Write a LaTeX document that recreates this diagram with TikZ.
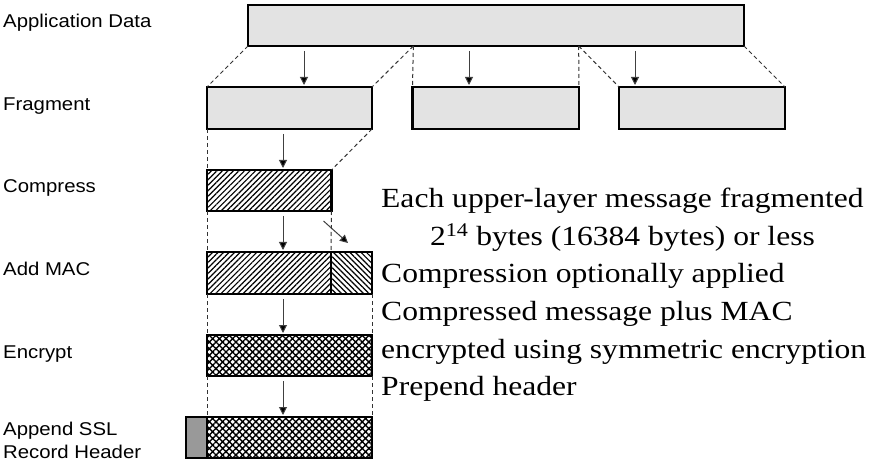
\documentclass[tikz,border=0pt]{standalone}
\usepackage{fontspec}
\setmainfont{Liberation Serif}[FakeStretch=1.14]
\newfontfamily\labfont{Liberation Sans}[FakeStretch=1.1]
\usetikzlibrary{calc,patterns.meta,arrows.meta}
\begin{document}
\begin{tikzpicture}[x=1pt,y=-1pt,
  box/.style={draw=black, line width=2.4pt, inner sep=0pt, outer sep=0pt, anchor=north west},
  plain/.style={box, fill=black!11},
  hatchA/.style={box, pattern={Lines[angle=45,distance=3.9pt,line width=1.2pt]}},
  hatchB/.style={box, pattern={Lines[angle=-45,distance=3.9pt,line width=1.2pt]}},
  cross/.style={box, pattern={Hatch[angle=45,distance=4.7pt,line width=1.4pt]}},
  guide/.style={line width=1pt, draw=black!80, dash pattern=on 4pt off 3pt},
  arr/.style={line width=1pt, draw=black!75, -{Triangle[width=8pt,length=8pt,fill=black]}},
  lab/.style={anchor=base west, inner sep=0pt, font=\labfont\fontsize{18.5}{22}\selectfont},
  note/.style={anchor=base west, inner sep=0pt, font=\fontsize{27.7}{33}\selectfont}]
\useasboundingbox (0,0) rectangle (873,465);

% boxes
\node[plain, minimum width=496pt, minimum height=41pt] (app) at (248,5) {};
\node[plain, minimum width=165pt, minimum height=42pt] (f1) at (207,87) {};
\node[plain, minimum width=166.5pt, minimum height=42pt] (f2) at (412.5,87) {};
\node[plain, minimum width=166pt, minimum height=42pt] (f3) at (619,87) {};
\node[hatchA, minimum width=124.5pt, minimum height=41pt] (comp) at (207,170) {};
\node[hatchA, minimum width=124pt, minimum height=42pt] (mac1) at (207,252) {};
\node[hatchB, minimum width=41pt, minimum height=42pt] (mac2) at (331,252) {};
\node[cross, minimum width=165pt, minimum height=41pt] (enc) at (207,335) {};
\node[box, fill=black!40, minimum width=21pt, minimum height=41pt] (hdr1) at (186,417) {};
\node[cross, minimum width=165pt, minimum height=41pt] (hdr2) at (207,417) {};

% split points of application data
\coordinate (s1) at ($(app.south west)!1/3!(app.south east)$);
\coordinate (s2) at ($(app.south west)!2/3!(app.south east)$);

% dashed guides
\draw[guide] (app.south west) -- (f1.north west);
\draw[guide] (s1) -- (f1.north east);
\draw[guide] (s1) -- (f2.north west);
\draw[guide] (s2) -- (f2.north east);
\draw[guide] (s2) -- (f3.north west);
\draw[guide] (app.south east) -- (f3.north east);
\draw[guide] (f1.south west) -- (comp.north west);
\draw[guide] (f1.south east) -- (comp.north east);
\draw[guide] (comp.south west) -- (mac1.north west);
\draw[guide] (comp.south east) -- (mac1.north east);
\draw[guide] (mac1.south west) -- (enc.north west);
\draw[guide] (mac2.south east) -- (enc.north east);
\draw[guide] (enc.south west) -- (hdr2.north west);
\draw[guide] (enc.south east) -- (hdr2.north east);

% arrow columns
\coordinate (c1) at (304,0);
\coordinate (c2) at (469,0);
\coordinate (c3) at (635,0);
\coordinate (c4) at (283,0);

\draw[arr] ($(app.south -| c1)+(0,5)$) -- ($(f1.north -| c1)+(0,-2)$);
\draw[arr] ($(app.south -| c2)+(0,5)$) -- ($(f2.north -| c2)+(0,-2)$);
\draw[arr] ($(app.south -| c3)+(0,5)$) -- ($(f3.north -| c3)+(0,-2)$);
\draw[arr] ($(f1.south -| c4)+(0,5)$) -- ($(comp.north -| c4)+(0,-2)$);
\draw[arr] ($(comp.south -| c4)+(0,5)$) -- ($(mac1.north -| c4)+(0,-2)$);
\draw[arr] ($(comp.south east)+(-8,10)$) -- ($(mac2.north)+(-3.5,-9)$);
\draw[arr] ($(mac1.south -| c4)+(0,5)$) -- ($(enc.north -| c4)+(0,-2)$);
\draw[arr] ($(enc.south -| c4)+(0,5)$) -- ($(hdr2.north -| c4)+(0,-2)$);

% left labels
\node[lab] (l1) at (3,28) {Application Data};
\node[lab] (l2) at (3,111) {Fragment};
\node[lab] (l3) at (3,193) {Compress};
\node[lab] (l4) at (3,276) {Add MAC};
\node[lab] (l5) at (3,358) {Encrypt};
\node[lab] (l6) at (3,435) {Append SSL};
\node[lab] (l7) at (3,458) {Record Header};

% right notes
\coordinate (y2) at (0,245.5);
\node[note] (t1) at (381,208) {Each upper-layer message fragmented};
\node[note, anchor=base] (t2) at (t1.base |- y2) {2\textsuperscript{14} bytes (16384 bytes) or less};
\node[note] (t3) at (381,283) {Compression optionally applied};
\node[note] (t4) at (381,320.5) {Compressed message plus MAC};
\node[note] (t5) at (381,358) {encrypted using symmetric encryption};
\node[note] (t6) at (381,395.5) {Prepend header};
\end{tikzpicture}
\end{document}
